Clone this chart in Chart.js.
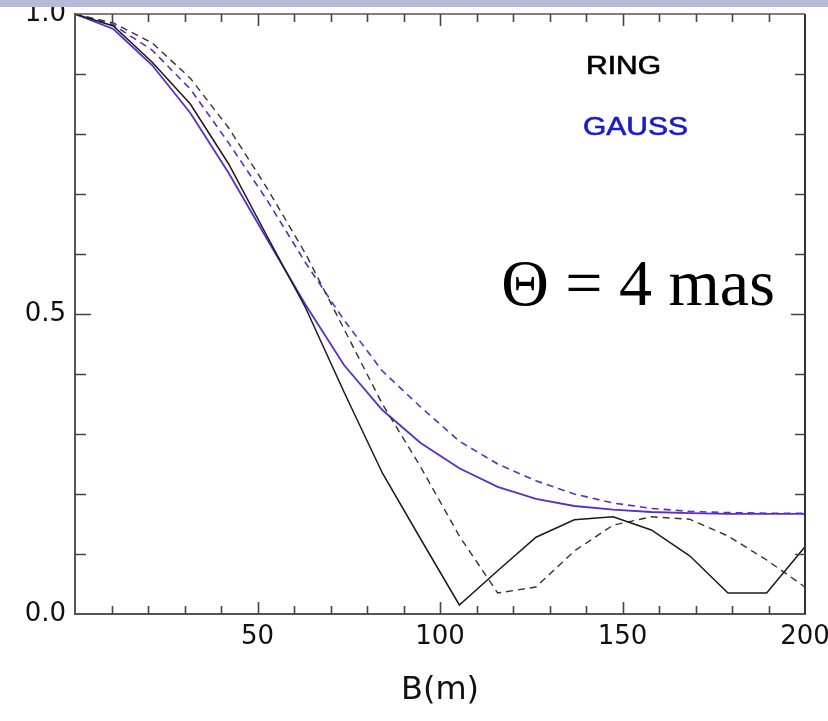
<!DOCTYPE html>
<html>
<head>
<meta charset="utf-8">
<script src="https://cdn.jsdelivr.net/npm/chart.js@4.4.0/dist/chart.umd.min.js"></script>
<style>
  html, body { margin: 0; padding: 0; background: #ffffff; }
  #wrap { position: relative; width: 828px; height: 721px; }
  canvas { display: block; }
</style>
</head>
<body>
<div id="wrap"><canvas id="c" width="828" height="721"></canvas></div>
<script>
// Baseline B (m) sample positions
const baselines = [0, 10.5, 21.1, 31.6, 42.1, 52.6, 63.2, 73.7, 84.2, 94.7, 105.3, 115.8, 126.3, 136.8, 147.4, 157.9, 168.4, 178.9, 189.5, 200];

// Visibility curves
const ringSolid   = [1.0, 0.98, 0.92, 0.85, 0.75, 0.63, 0.51, 0.37, 0.235, 0.125, 0.015, 0.072, 0.128, 0.157, 0.162, 0.14, 0.097, 0.035, 0.035, 0.112];
const ringDashed  = [1.0, 0.985, 0.952, 0.893, 0.81, 0.71, 0.60, 0.475, 0.35, 0.245, 0.13, 0.035, 0.045, 0.105, 0.148, 0.162, 0.158, 0.13, 0.09, 0.045];
const gaussSolid  = [1.0, 0.975, 0.915, 0.835, 0.735, 0.625, 0.515, 0.415, 0.34, 0.285, 0.243, 0.212, 0.192, 0.18, 0.174, 0.17, 0.168, 0.167, 0.167, 0.167];
const gaussDashed = [1.0, 0.982, 0.94, 0.875, 0.785, 0.69, 0.585, 0.49, 0.405, 0.345, 0.288, 0.25, 0.222, 0.2, 0.185, 0.176, 0.171, 0.169, 0.168, 0.168];

// Axis ticks
const xLabelTicks = [50, 100, 150, 200];
const yLabelTicks = [0.0, 0.5, 1.0];
const xMinorStep = 10;
const yMinorStep = 0.1;

const seriesNames = ['RING', 'GAUSS'];
const annotationText = 'Θ = 4 mas';
const xTitle = 'B(m)';

const BLACK = '#1a1a1a';
const PURPLE = '#5a2ec8';

function pts(arr) { return baselines.map((b, i) => ({ x: b, y: arr[i] })); }

const decor = {
  id: 'decor',
  afterDraw(chart) {
    const ctx = chart.ctx;
    const a = chart.chartArea;
    const xs = chart.scales.x, ys = chart.scales.y;
    ctx.save();
    // frame
    ctx.strokeStyle = '#555';
    ctx.lineWidth = 1.5;
    ctx.beginPath();
    ctx.moveTo(a.left, a.top); ctx.lineTo(a.right, a.top);
    ctx.stroke();
    ctx.lineWidth = 2;
    ctx.strokeStyle = '#333';
    ctx.beginPath();
    ctx.moveTo(a.right, a.top); ctx.lineTo(a.right, a.bottom);
    ctx.stroke();
    // inward ticks
    ctx.strokeStyle = '#444';
    ctx.lineWidth = 1.6;
    ctx.beginPath();
    for (let v = xMinorStep; v < xs.max; v += xMinorStep) {
      const vv = Math.round(v);
      const px = Math.round(xs.getPixelForValue(vv)) + 0.5;
      const major = vv % 50 === 0;
      const len = major ? 12 : 8;
      ctx.moveTo(px, a.bottom); ctx.lineTo(px, a.bottom - len);
      ctx.moveTo(px, a.top); ctx.lineTo(px, a.top + len);
    }
    for (let v = yMinorStep; v < ys.max - 1e-6; v += yMinorStep) {
      const vv = Math.round(v * 10) / 10;
      const py = Math.round(ys.getPixelForValue(vv)) + 0.5;
      const major = Math.abs(vv - 0.5) < 1e-6;
      const len = major ? 16 : 11;
      ctx.moveTo(a.left, py); ctx.lineTo(a.left + len, py);
      ctx.moveTo(a.right, py); ctx.lineTo(a.right - (major ? 14 : 10), py);
    }
    ctx.stroke();

    // series labels (stretched like the original)
    ctx.font = '25px "Liberation Sans", Arial, sans-serif';
    ctx.textBaseline = 'middle';
    ctx.textAlign = 'left';
    ctx.lineWidth = 0.6;
    ctx.save();
    ctx.translate(586, 67); ctx.scale(1.2, 1);
    ctx.fillStyle = '#000'; ctx.strokeStyle = '#000';
    ctx.fillText(seriesNames[0], 0, 0);
    ctx.strokeText(seriesNames[0], 0, 0);
    ctx.restore();
    ctx.save();
    ctx.translate(583, 128); ctx.scale(1.2, 1);
    ctx.fillStyle = '#1a1ad0'; ctx.strokeStyle = '#1a1ad0';
    ctx.fillText(seriesNames[1], 0, 0);
    ctx.strokeText(seriesNames[1], 0, 0);
    ctx.restore();

    // annotation
    ctx.font = '66px "Liberation Serif", "Times New Roman", serif';
    ctx.fillStyle = '#000';
    ctx.textAlign = 'center';
    ctx.fillText(annotationText, 638, 288);

    // top band
    ctx.fillStyle = '#b4bad8';
    ctx.fillRect(0, 0, chart.width, 7);
    ctx.restore();
  }
};

new Chart(document.getElementById('c'), {
  type: 'line',
  data: {
    datasets: [
      { label: 'RING', data: pts(ringSolid), borderColor: BLACK, borderWidth: 1.5, pointRadius: 0, tension: 0, fill: false },
      { label: 'RING (dashed)', data: pts(ringDashed), borderColor: '#333', borderWidth: 1.4, borderDash: [7, 5], pointRadius: 0, tension: 0, fill: false },
      { label: 'GAUSS (dashed)', data: pts(gaussDashed), borderColor: PURPLE, borderWidth: 1.6, borderDash: [7, 5], pointRadius: 0, tension: 0, fill: false },
      { label: 'GAUSS', data: pts(gaussSolid), borderColor: PURPLE, borderWidth: 1.8, pointRadius: 0, tension: 0, fill: false }
    ]
  },
  options: {
    responsive: false,
    animation: false,
    layout: { padding: { left: 0, right: 23, top: 14, bottom: 0 } },
    plugins: { legend: { display: false }, tooltip: { enabled: false } },
    scales: {
      x: {
        type: 'linear', min: 0, max: 200,
        grid: { display: false, drawTicks: false },
        border: { display: true, color: '#555', width: 2 },
        afterBuildTicks(scale) { scale.ticks = xLabelTicks.map(v => ({ value: v })); },
        ticks: {
          autoSkip: false, maxRotation: 0, padding: 8, color: '#111',
          font: { family: '"DejaVu Sans", sans-serif', size: 26 }
        },
        title: {
          display: true, text: xTitle, color: '#111',
          font: { family: '"DejaVu Sans", sans-serif', size: 32 },
          padding: { top: 0, bottom: 11 }
        },
        afterFit(scale) { scale.height = 107; scale.paddingLeft = 0; scale.paddingRight = 0; }
      },
      y: {
        type: 'linear', min: 0, max: 1,
        grid: { display: false, drawTicks: false },
        border: { display: true, color: '#555', width: 2 },
        afterBuildTicks(scale) { scale.ticks = yLabelTicks.map(v => ({ value: v })); },
        ticks: {
          autoSkip: false, padding: 9, color: '#111',
          font: { family: '"DejaVu Sans", sans-serif', size: 26 },
          callback: v => Number(v).toFixed(1)
        },
        afterFit(scale) { scale.width = 75; scale.paddingTop = 0; scale.paddingBottom = 0; }
      }
    }
  },
  plugins: [decor]
});
</script>
</body>
</html>
